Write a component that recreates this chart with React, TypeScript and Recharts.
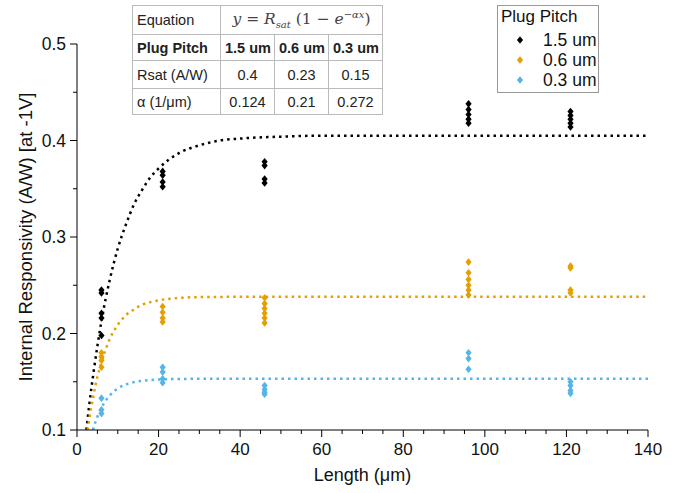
import React from "react";
import {
  ComposedChart,
  XAxis,
  YAxis,
  ZAxis,
  Scatter,
  Line,
} from "recharts";

// measured lengths (um)
const lengths = [6, 21, 46, 96, 121];

// responsivity readings per length, per plug pitch
const resp15 = [
  [0.245, 0.242, 0.221, 0.216, 0.198],
  [0.368, 0.364, 0.357, 0.352],
  [0.378, 0.374, 0.36, 0.356],
  [0.438, 0.432, 0.427, 0.422, 0.418],
  [0.43, 0.426, 0.422, 0.418, 0.414],
];
const resp06 = [
  [0.18, 0.176, 0.172, 0.165],
  [0.228, 0.222, 0.216, 0.212],
  [0.237, 0.231, 0.226, 0.221, 0.216, 0.211],
  [0.274, 0.263, 0.256, 0.25, 0.245, 0.24],
  [0.27, 0.268, 0.245, 0.242],
];
const resp03 = [
  [0.133, 0.121, 0.117],
  [0.165, 0.16, 0.153, 0.149],
  [0.146, 0.142, 0.139, 0.137],
  [0.18, 0.174, 0.163],
  [0.15, 0.146, 0.141, 0.138],
];

// fitted curves
const fit15X = [2.3, 3, 4, 5, 6, 8, 10, 12, 14, 16, 18, 20, 25, 30, 35, 40, 50, 60, 80, 100, 120, 140];
const fit15Y = [0.1, 0.126, 0.158, 0.187, 0.213, 0.255, 0.288, 0.313, 0.334, 0.349, 0.362, 0.371, 0.387, 0.395, 0.4, 0.402, 0.404, 0.405, 0.405, 0.405, 0.405, 0.405];
const fit06X = [2.6, 3, 4, 5, 6, 8, 10, 12, 14, 16, 18, 20, 25, 30, 40, 60, 80, 100, 120, 140];
const fit06Y = [0.1, 0.111, 0.135, 0.155, 0.17, 0.194, 0.209, 0.219, 0.225, 0.23, 0.2325, 0.2344, 0.2368, 0.2377, 0.238, 0.238, 0.238, 0.238, 0.238, 0.238];
const fit03X = [3.9, 4, 5, 6, 8, 10, 12, 14, 16, 20, 25, 30, 40, 60, 80, 100, 120, 140];
const fit03Y = [0.1, 0.1015, 0.1137, 0.123, 0.1356, 0.1429, 0.1472, 0.1496, 0.151, 0.1523, 0.1529, 0.153, 0.153, 0.153, 0.153, 0.153, 0.153, 0.153];

const seriesNames = ["1.5 um", "0.6 um", "0.3 um"];
const seriesColors = ["#000000", "#E69F00", "#56B4E9"];

const xTicks = [0, 5, 10, 15, 20, 25, 30, 35, 40, 45, 50, 55, 60, 65, 70, 75, 80, 85, 90, 95, 100, 105, 110, 115, 120, 125, 130, 135, 140];
const yTicks = [0.1, 0.15, 0.2, 0.25, 0.3, 0.35, 0.4, 0.45, 0.5];

const tableRsat = ["Rsat (A/W)", "0.4", "0.23", "0.15"];
const tableAlpha = ["α (1/μm)", "0.124", "0.21", "0.272"];
const tableHead = ["Plug Pitch", "1.5 um", "0.6 um", "0.3 um"];

const font = "'Liberation Sans', Arial, sans-serif";

const toPoints = (groups: number[][]) =>
  groups.flatMap((g, i) => g.map((y) => ({ x: lengths[i], y })));

const toCurve = (xs: number[], ys: number[]) => xs.map((x, i) => ({ x, y: ys[i] }));

const diamondPath = (cx: number, cy: number) =>
  `M${cx},${cy - 3.8}L${cx + 3.1},${cy}L${cx},${cy + 3.8}L${cx - 3.1},${cy}Z`;

const Diamond = (props: any) => {
  const { cx, cy, fill } = props;
  if (cx == null || cy == null) return null;
  return <path d={diamondPath(cx, cy)} fill={fill} />;
};

const XTick = (props: any) => {
  const { x, y, payload } = props;
  const v = payload.value;
  const major = v % 20 === 0;
  return (
    <g>
      <line x1={x} x2={x} y1={y} y2={y + (major ? 7 : 4)} stroke="#000" />
      {major && (
        <text x={x} y={y + 25} textAnchor="middle" fontSize={17} fill="#111" fontFamily={font}>
          {v}
        </text>
      )}
    </g>
  );
};

const YTick = (props: any) => {
  const { x, y, payload } = props;
  const v = payload.value;
  const major = Math.abs(v * 10 - Math.round(v * 10)) < 1e-6;
  return (
    <g>
      <line x1={x} x2={x - (major ? 7 : 4)} y1={y} y2={y} stroke="#000" />
      {major && (
        <text x={x - 11} y={y + 6} textAnchor="end" fontSize={17.5} fill="#111" fontFamily={font}>
          {v.toFixed(1)}
        </text>
      )}
    </g>
  );
};

const cell: React.CSSProperties = {
  border: "1px solid #bbb",
  padding: "0 4px",
  textAlign: "center",
  whiteSpace: "nowrap",
};

const FitTable = () => (
  <table
    style={{
      position: "absolute",
      left: 132,
      top: 5,
      borderCollapse: "collapse",
      fontFamily: font,
      fontSize: 14.5,
      color: "#222",
      background: "#fff",
      tableLayout: "fixed",
      width: 250,
    }}
  >
    <colgroup>
      <col style={{ width: 88 }} />
      <col style={{ width: 54 }} />
      <col style={{ width: 54 }} />
      <col style={{ width: 54 }} />
    </colgroup>
    <tbody>
      <tr style={{ height: 29 }}>
        <td style={{ ...cell, textAlign: "left" }}>Equation</td>
        <td
          colSpan={3}
          style={{ ...cell, fontFamily: "'DejaVu Serif', serif", fontStyle: "italic", fontSize: 15.5, color: "#444" }}
        >
          y = R<sub style={{ fontSize: 10 }}>sat</sub> <span style={{ fontStyle: "normal" }}>(1 − </span>e
          <sup style={{ fontSize: 10 }}>−αx</sup>
          <span style={{ fontStyle: "normal" }}>)</span>
        </td>
      </tr>
      <tr style={{ height: 26, fontWeight: "bold" }}>
        {tableHead.map((t, i) => (
          <td key={i} style={{ ...cell, textAlign: i === 0 ? "left" : "center" }}>
            {t}
          </td>
        ))}
      </tr>
      <tr style={{ height: 28 }}>
        {tableRsat.map((t, i) => (
          <td key={i} style={{ ...cell, textAlign: i === 0 ? "left" : "center" }}>
            {t}
          </td>
        ))}
      </tr>
      <tr style={{ height: 26 }}>
        {tableAlpha.map((t, i) => (
          <td key={i} style={{ ...cell, textAlign: i === 0 ? "left" : "center" }}>
            {t}
          </td>
        ))}
      </tr>
    </tbody>
  </table>
);

const PitchLegend = () => (
  <div
    style={{
      position: "absolute",
      left: 497,
      top: 5,
      width: 100,
      height: 86,
      border: "1px solid #999",
      background: "#fff",
      fontFamily: font,
      color: "#111",
    }}
  >
    <div style={{ position: "absolute", left: 3, top: 1, fontSize: 17 }}>Plug Pitch</div>
    {seriesNames.map((name, i) => (
      <div key={name} style={{ position: "absolute", left: 0, top: 24 + i * 20, height: 20, width: 100 }}>
        <svg width={30} height={20} style={{ position: "absolute", left: 8, top: 0 }}>
          <path d={diamondPath(14, 10)} fill={seriesColors[i]} />
        </svg>
        <span style={{ position: "absolute", left: 45, top: 0, fontSize: 17.5, lineHeight: "20px" }}>{name}</span>
      </div>
    ))}
  </div>
);

export default function App() {
  const points = [toPoints(resp15), toPoints(resp06), toPoints(resp03)];
  const curves = [toCurve(fit15X, fit15Y), toCurve(fit06X, fit06Y), toCurve(fit03X, fit03Y)];

  return (
    <div style={{ position: "absolute", left: 0, top: 0, width: 689, height: 493, background: "#fff" }}>
      <ComposedChart width={689} height={493} margin={{ top: 44, right: 41, left: 22, bottom: 8 }}>
        <XAxis
          type="number"
          dataKey="x"
          domain={[0, 140]}
          ticks={xTicks}
          interval={0}
          tickLine={false}
          tickSize={0}
          tickMargin={0}
          tick={<XTick />}
          height={55}
          stroke="#000"
          allowDataOverflow
          label={{ value: "Length (μm)", position: "insideBottom", offset: 4, fontSize: 18, fill: "#111", fontFamily: font }}
        />
        <YAxis
          type="number"
          dataKey="y"
          domain={[0.1, 0.5]}
          ticks={yTicks}
          interval={0}
          tickLine={false}
          tickSize={0}
          tickMargin={0}
          tick={<YTick />}
          width={55}
          stroke="#000"
          allowDataOverflow
          label={{
            value: "Internal Responsivity (A/W) [at -1V]",
            angle: -90,
            position: "insideLeft",
            offset: 3,
            fontSize: 18.5,
            fill: "#111",
            fontFamily: font,
            style: { textAnchor: "middle" },
          }}
        />
        <ZAxis type="number" range={[20, 20]} />
        {curves.map((c, i) => (
          <Line
            key={"fit" + i}
            data={c}
            dataKey="y"
            type="monotone"
            stroke={seriesColors[i]}
            strokeWidth={2.5}
            strokeDasharray="2.5 4"
            dot={false}
            activeDot={false}
            legendType="none"
            isAnimationActive={false}
          />
        ))}
        {points.map((p, i) => (
          <Scatter
            key={"pts" + i}
            name={seriesNames[i]}
            data={p}
            fill={seriesColors[i]}
            shape={<Diamond />}
            isAnimationActive={false}
          />
        ))}
      </ComposedChart>
      <FitTable />
      <PitchLegend />
    </div>
  );
}
